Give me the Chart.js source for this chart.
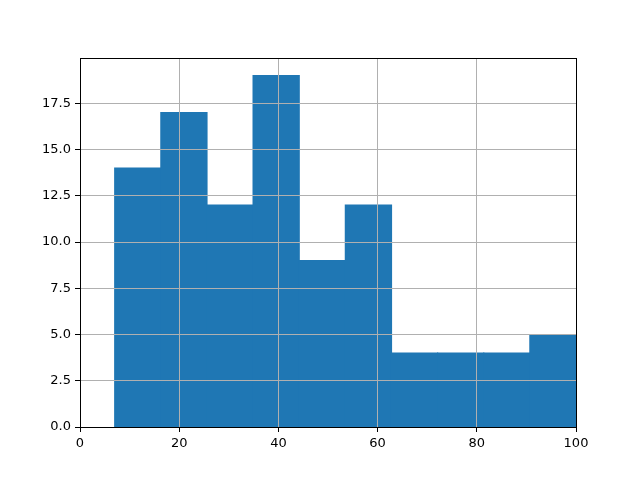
<!DOCTYPE html>
<html>
<head>
<meta charset="utf-8">
<script src="https://cdn.jsdelivr.net/npm/chart.js@4/dist/chart.umd.min.js"></script>
<style>
  body { margin: 0; background: #fff; }
  canvas { display: block; }
</style>
</head>
<body>
<canvas id="histChart" width="640" height="480"></canvas>
<script>
// histogram bins (edges) and counts
const binEdges = [7.0, 16.3, 25.6, 34.9, 44.2, 53.5, 62.8, 72.1, 81.4, 90.7, 100.0];
const counts = [14, 17, 12, 19, 9, 12, 4, 4, 4, 5];
const xTicks = [0, 20, 40, 60, 80, 100];
const yTicks = [0, 2.5, 5, 7.5, 10, 12.5, 15, 17.5];

document.addEventListener("DOMContentLoaded", function() {
    const ctx = document.getElementById('histChart').getContext('2d');

    const points = counts.map((c, i) => ({
        x: (binEdges[i] + binEdges[i + 1]) / 2,
        y: c
    }));

    // black frame around the plot area, like matplotlib spines
    const framePlugin = {
        id: 'frame',
        afterDraw(chart) {
            const a = chart.chartArea;
            const c = chart.ctx;
            c.save();
            c.strokeStyle = '#000';
            c.lineWidth = 1;
            c.strokeRect(Math.round(a.left) + 0.5, Math.round(a.top) + 0.5,
                         Math.round(a.right - a.left), Math.round(a.bottom - a.top));
            c.restore();
        }
    };

    new Chart(ctx, {
        type: 'bar',
        data: {
            datasets: [{
                data: points,
                backgroundColor: '#1f77b4',
                borderWidth: 0,
                inflateAmount: 0.6,
                barPercentage: 1.0,
                categoryPercentage: 1.0
            }]
        },
        options: {
            responsive: false,
            devicePixelRatio: 1,
            animation: false,
            layout: { padding: { left: 0, top: 58, right: 64, bottom: 0 } },
            plugins: {
                legend: { display: false },
                tooltip: { enabled: false }
            },
            scales: {
                x: {
                    type: 'linear',
                    min: 0,
                    max: 100,
                    offset: false,
                    afterFit: s => { s.height = 53; },
                    afterBuildTicks: s => { s.ticks = xTicks.map(v => ({ value: v })); },
                    grid: { z: 1, offset: false, color: '#b0b0b0', lineWidth: 1, tickLength: 5, tickColor: '#000' },
                    border: { display: false },
                    ticks: {
                        color: '#000',
                        padding: 4,
                        maxRotation: 0,
                        font: { family: 'DejaVu Sans', size: 13 },
                        callback: v => String(v)
                    }
                },
                y: {
                    min: 0,
                    max: 19.95,
                    afterFit: s => { s.width = 80; },
                    afterBuildTicks: s => { s.ticks = yTicks.map(v => ({ value: v })); },
                    grid: { z: 1, color: '#b0b0b0', lineWidth: 1, tickLength: 5, tickColor: '#000' },
                    border: { display: false },
                    ticks: {
                        color: '#000',
                        padding: 4,
                        font: { family: 'DejaVu Sans', size: 13 },
                        callback: v => v.toFixed(1)
                    }
                }
            }
        },
        plugins: [framePlugin]
    });
});
</script>
</body>
</html>
